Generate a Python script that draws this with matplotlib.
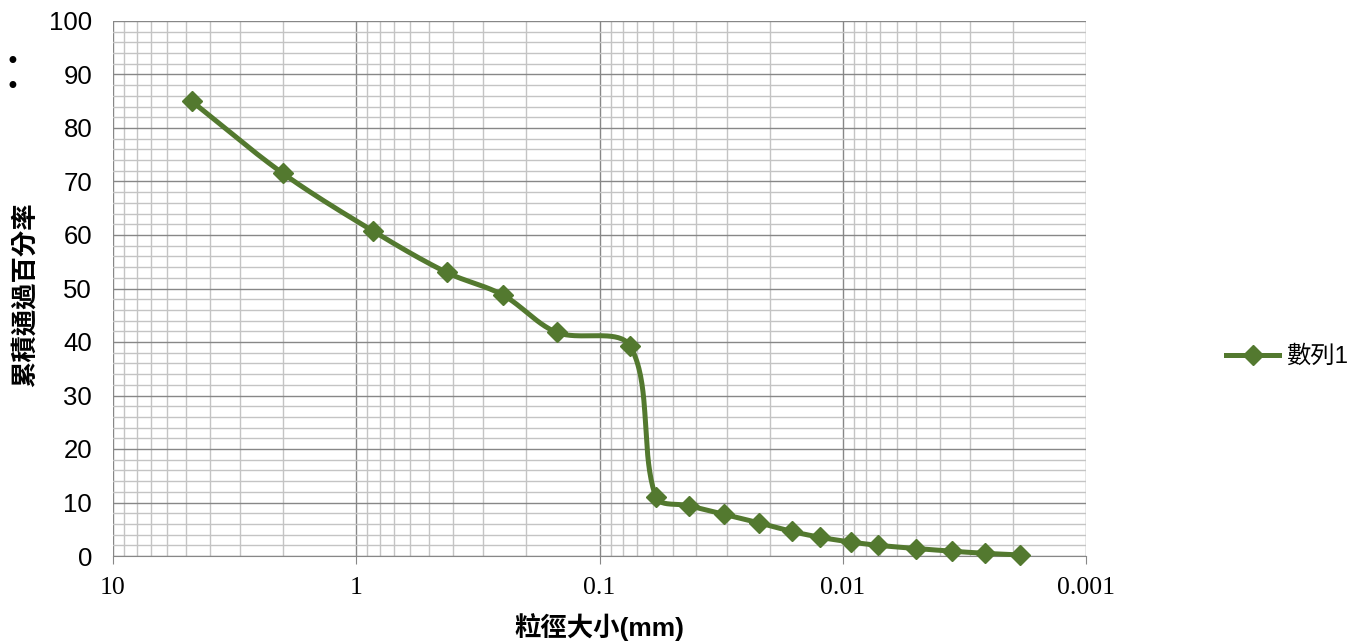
import numpy as np
import matplotlib
matplotlib.use("Agg")
import matplotlib.pyplot as plt
from matplotlib.ticker import LogLocator, MultipleLocator, NullFormatter
from matplotlib.lines import Line2D

# 粒徑 (mm) 與累積通過百分率
grain_size = [4.75, 2.0, 0.85, 0.425, 0.25, 0.15, 0.075, 0.0586, 0.0429, 0.0308,
              0.0221, 0.0162, 0.0124, 0.00924, 0.00716, 0.0050, 0.00356, 0.0026, 0.00187]
percent_passing = [85.0, 71.5, 60.7, 53.0, 48.8, 41.8, 39.3, 11.0, 9.4, 7.8,
                   6.2, 4.6, 3.5, 2.6, 2.0, 1.4, 0.9, 0.5, 0.2]
series_name = "數列1"

green = "#53792f"
cjk = ["Liberation Sans", "Noto Sans CJK TC"]


def smooth_curve(xs, ys, sx=243.25, sy=5.35, n=40, k=1 / 3):
    # 類似 Excel 平滑線: 在螢幕座標做 Bezier, 控制點依相鄰段長比例縮放
    u = np.log10(xs) * sx
    v = np.array(ys) * sy
    pts = np.column_stack([u, v])
    npt = len(pts)
    out = [pts[0]]
    for i in range(npt - 1):
        p0 = pts[i - 1] if i > 0 else pts[i]
        p1 = pts[i]
        p2 = pts[i + 1]
        p3 = pts[i + 2] if i + 2 < npt else pts[i + 1]
        d01 = np.linalg.norm(p1 - p0)
        d12 = np.linalg.norm(p2 - p1)
        d23 = np.linalg.norm(p3 - p2)
        c1 = p1 + (p2 - p0) * k * d12 / (d01 + d12) if d01 > 0 else p1 + (p2 - p1) * k
        c2 = p2 - (p3 - p1) * k * d12 / (d12 + d23) if d23 > 0 else p2 - (p2 - p1) * k
        t = np.linspace(0, 1, n)[1:, None]
        seg = ((1 - t) ** 3) * p1 + 3 * ((1 - t) ** 2) * t * c1 + 3 * (1 - t) * t ** 2 * c2 + t ** 3 * p2
        out.extend(seg)
    out = np.array(out)
    return 10 ** (out[:, 0] / sx), out[:, 1] / sy


fig = plt.figure(figsize=(13.52, 6.44), dpi=100)
ax = fig.add_axes([113 / 1352, 1 - 556 / 644, (1086 - 113) / 1352, (556 - 21) / 644])

ax.set_xscale("log")
ax.set_xlim(10, 0.001)
ax.set_ylim(0, 100)

sx, sy = smooth_curve(grain_size, percent_passing)
ax.plot(sx, sy, color=green, lw=3.6, solid_capstyle="round", zorder=3, clip_on=False)
ax.plot(grain_size, percent_passing, ls="none", marker="D", ms=10.5, color=green, zorder=4, clip_on=False)

# 格線
ax.xaxis.set_major_locator(LogLocator(base=10, numticks=10))
ax.xaxis.set_minor_locator(LogLocator(base=10, subs=np.arange(2, 10), numticks=20))
ax.xaxis.set_minor_formatter(NullFormatter())
ax.yaxis.set_major_locator(MultipleLocator(10))
ax.yaxis.set_minor_locator(MultipleLocator(2))
ax.grid(which="major", color="#878787", lw=1.0, zorder=1)
ax.grid(which="minor", color="#c4c4c4", lw=1.0, zorder=0)

ax.set_xticks([10, 1, 0.1, 0.01, 0.001])
ax.set_xticklabels(["10", "1", "0.1", "0.01", "0.001"], fontfamily="Liberation Serif", fontsize=18.5)
ax.tick_params(axis="x", which="major", direction="out", length=6, color="#878787", pad=9)
ax.tick_params(axis="x", which="minor", length=0)
ax.tick_params(axis="y", which="both", length=0, pad=15, labelsize=18.5)
for lbl in ax.get_yticklabels():
    lbl.set_fontfamily("Liberation Sans")

for side in ["top", "right", "left"]:
    ax.spines[side].set_visible(False)
ax.spines["bottom"].set_color("#878787")

ax.set_xlabel("粒徑大小(mm)", family=cjk, fontsize=19, fontweight="bold", va="center")
ax.xaxis.set_label_coords(0.5, -(627 - 556) / 535)
ax.set_ylabel("累積通過百分率", family=cjk, fontsize=19, fontweight="bold")
ax.yaxis.set_label_coords(-(113 - 38) / 973, (556 - 295) / 535)

handle = Line2D([], [], color=green, lw=3.6, marker="D", ms=10.5)
fig.legend([handle], [series_name], loc="center left", bbox_to_anchor=(1226 / 1352, 1 - 357 / 644),
           frameon=False, prop={"family": cjk, "size": 17.5}, handlelength=2.2, handletextpad=0.25,
           borderaxespad=0, borderpad=0)

fig.text(12 / 1352, 1 - 62 / 644, "•", fontsize=17, ha="center", va="center")
fig.text(12 / 1352, 1 - 87 / 644, "•", fontsize=17, ha="center", va="center")

fig.savefig("out.png", dpi=100)
